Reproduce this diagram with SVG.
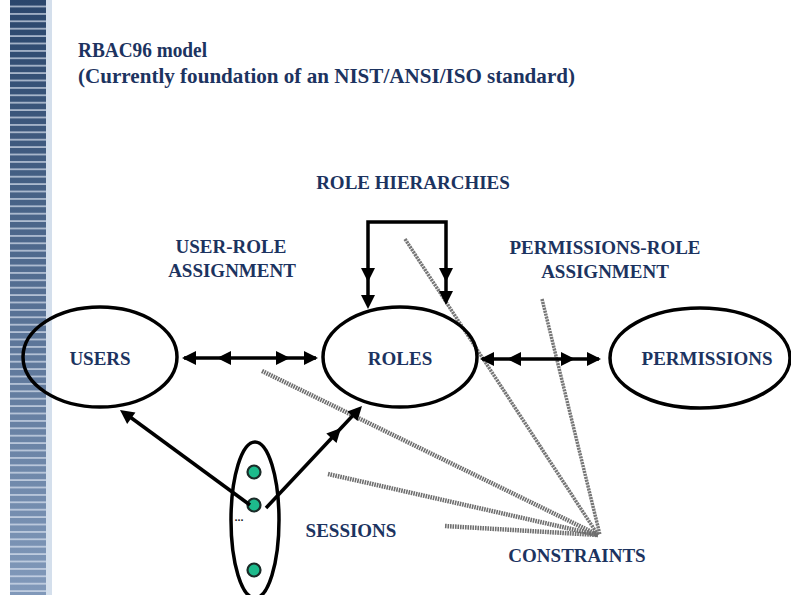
<svg xmlns="http://www.w3.org/2000/svg" xmlns:xlink="http://www.w3.org/1999/xlink" width="791" height="595" viewBox="0 0 791 595">
<defs>
<linearGradient id="barg" x1="0" y1="0" x2="0" y2="1">
<stop offset="0" stop-color="#2a466c"/>
<stop offset="1" stop-color="#8199ba"/>
</linearGradient>
<pattern id="stripes" x="0" y="0" width="40" height="7.4" patternUnits="userSpaceOnUse">
<rect x="0" y="5.8" width="40" height="1.4" fill="#dfe8f3" fill-opacity="0.85"/>
</pattern>
<path id="ah" d="M0,0 L-14,-7 L-14,7 Z"/>
</defs>
<style>
.t{font-family:"Liberation Serif","Times New Roman",serif;font-weight:bold;fill:#1c3360;font-size:19px;text-anchor:middle}
.title{font-family:"Liberation Serif","Times New Roman",serif;font-weight:bold;fill:#1c3360;font-size:21px}
.node{fill:none;stroke:#000;stroke-width:3.5}
.edge{fill:none;stroke:#000;stroke-width:3.5}
.head{fill:#000}
.con{fill:none;stroke:#6e6e6e;stroke-width:4.5;stroke-dasharray:1.6 0.9}
.con2{fill:none;stroke:#777;stroke-width:3.5;stroke-dasharray:2.2 0.8}
.dot{fill:#1dbb8c;stroke:#1b2b28;stroke-width:2.2}
</style>
<rect width="791" height="595" fill="#fff"/>
<g id="sidebar">
<rect x="46" y="0" width="6" height="595" fill="#d4dfec"/>
<rect x="10" y="0" width="36" height="595" fill="url(#barg)"/>
<rect x="10" y="0" width="36" height="595" fill="url(#stripes)"/>
</g>
<g id="title">
<text class="title" x="78" y="57" textLength="129" lengthAdjust="spacingAndGlyphs">RBAC96 model</text>
<text class="title" x="78" y="83" textLength="497" lengthAdjust="spacingAndGlyphs">(Currently foundation of an NIST/ANSI/ISO standard)</text>
</g>
<g id="constraints-lines">
<line class="con2" x1="405" y1="239" x2="598" y2="535"/>
<line class="con2" x1="542" y1="299" x2="600" y2="535"/>
<line class="con" x1="262" y1="371" x2="598" y2="535"/>
<line class="con" x1="328" y1="474" x2="598" y2="535"/>
<line class="con" x1="445" y1="526" x2="598" y2="535"/>
</g>
<g id="users">
<ellipse class="node" cx="100" cy="357" rx="77" ry="50"/>
<text class="t" x="100" y="365">USERS</text>
</g>
<g id="roles">
<ellipse class="node" cx="400" cy="357" rx="77" ry="50"/>
<text class="t" x="400" y="365">ROLES</text>
</g>
<g id="permissions">
<ellipse class="node" cx="700" cy="358" rx="90" ry="50"/>
<text class="t" x="707" y="365">PERMISSIONS</text>
</g>
<g id="sessions">
<ellipse class="node" cx="255" cy="520" rx="24" ry="78"/>
<circle class="dot" cx="254" cy="472" r="6.5"/>
<circle class="dot" cx="254" cy="505" r="6.5"/>
<circle class="dot" cx="254" cy="570" r="6.5"/>
<text x="239" y="521" font-family="Liberation Sans, sans-serif" font-size="11" font-weight="bold" fill="#222" text-anchor="middle">...</text>
<text class="t" x="351" y="537">SESSIONS</text>
</g>
<g id="labels">
<text class="t" x="413" y="189">ROLE HIERARCHIES</text>
<text class="t" x="231" y="253">USER-ROLE</text>
<text class="t" x="232" y="277">ASSIGNMENT</text>
<text class="t" x="605" y="254">PERMISSIONS-ROLE</text>
<text class="t" x="605" y="278">ASSIGNMENT</text>
<text class="t" x="577" y="562">CONSTRAINTS</text>
</g>
<g id="connectors">
<line class="edge" x1="184" y1="358" x2="316" y2="358"/>
<use href="#ah" class="head" transform="translate(182,358) rotate(180)"/>
<use href="#ah" class="head" transform="translate(217,358) rotate(180)"/>
<use href="#ah" class="head" transform="translate(290,358) rotate(0)"/>
<use href="#ah" class="head" transform="translate(318,358) rotate(0)"/>
<line class="edge" x1="482" y1="359" x2="599" y2="359"/>
<use href="#ah" class="head" transform="translate(480,359) rotate(180)"/>
<use href="#ah" class="head" transform="translate(507,359) rotate(180)"/>
<use href="#ah" class="head" transform="translate(575,359) rotate(0)"/>
<use href="#ah" class="head" transform="translate(601,359) rotate(0)"/>
<path class="edge" d="M368,300 V222 H446 V296"/>
<use href="#ah" class="head" transform="translate(368,282) rotate(90)"/>
<use href="#ah" class="head" transform="translate(368,309) rotate(90)"/>
<use href="#ah" class="head" transform="translate(446,282) rotate(90)"/>
<use href="#ah" class="head" transform="translate(446,305) rotate(90)"/>
<line class="edge" x1="250" y1="505" x2="126" y2="414"/>
<use href="#ah" class="head" transform="translate(120,410) rotate(216.2)"/>
<line class="edge" x1="266" y1="508" x2="358" y2="410"/>
<use href="#ah" class="head" transform="translate(341,428) rotate(-46.7)"/>
<use href="#ah" class="head" transform="translate(362,406) rotate(-46.7)"/>
</g>
</svg>
